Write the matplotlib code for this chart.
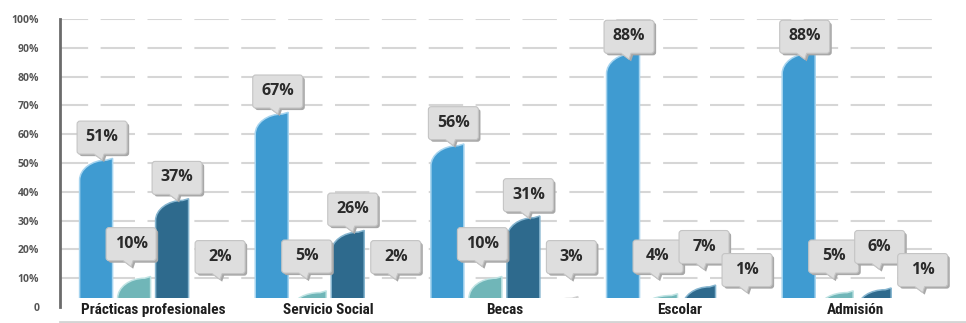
import matplotlib
matplotlib.use('Agg')
import matplotlib.pyplot as plt
from matplotlib.path import Path
from matplotlib.patches import PathPatch, Rectangle
from matplotlib.lines import Line2D
from matplotlib import font_manager as fm
import matplotlib.transforms as mtransforms
import matplotlib.patheffects as pe

# ---------------- data ----------------
categories = ['Prácticas profesionales', 'Servicio Social', 'Becas', 'Escolar', 'Admisión']
serie_1 = [51, 67, 56, 88, 88]   # azul
serie_2 = [10, 5, 10, 4, 5]      # verde agua
serie_3 = [37, 26, 31, 7, 6]     # azul oscuro
serie_4 = [2, 2, 3, 1, 1]        # gris
y_ticks = [0, 10, 20, 30, 40, 50, 60, 70, 80, 90, 100]
y_tick_labels = ['0', '10%', '20%', '30%', '40%', '50%', '60%', '70%', '80%', '90%', '100%']
major_marks = [20, 40, 60, 80, 100]

series = [serie_1, serie_2, serie_3, serie_4]
colors = ['#3f9bd1', '#70b6b8', '#2e6a8d', '#9e9e9e']
edges = ['#a6d4ef', '#bfe3e3', '#86b5cf', '#d2d2d2']

# ---------------- fonts ----------------
def pick_condensed():
    names = {f.name for f in fm.fontManager.ttflist}
    for cand in ['Liberation Sans Narrow', 'DejaVu Sans Condensed', 'Roboto Condensed']:
        if cand in names:
            return cand, 'normal'
    for f in fm.fontManager.ttflist:
        if f.name == 'DejaVu Sans' and 'condensed' in str(f.stretch):
            return 'DejaVu Sans', 'condensed'
    return 'DejaVu Sans', 'normal'

cond_family, cond_stretch = pick_condensed()
label_family = ['Open Sans', 'DejaVu Sans']

# ---------------- figure ----------------
W, H = 966, 323
DPI = 100
fig = plt.figure(figsize=(W / DPI, H / DPI), dpi=DPI)
fig.patch.set_facecolor('white')
ax_left, ax_right, ax_top, ax_bot = 60, 940, 19, 307
ax = fig.add_axes([ax_left / W, (H - ax_bot) / H, (ax_right - ax_left) / W, (ax_bot - ax_top) / H])
ax.set_facecolor('none')
ax.set_ylim(0, 100)
ax.set_xlim(-0.53, 4.48)

for s in ['top', 'right', 'bottom']:
    ax.spines[s].set_visible(False)
ax.spines['left'].set_color('#6b6b6b')
ax.spines['left'].set_linewidth(2.0)
ax.spines['left'].set_zorder(6)

ax.set_xticks([])
ax.set_yticks(y_ticks, y_tick_labels)
ax.tick_params(axis='y', which='major', length=0, pad=15, labelsize=7.5, labelcolor='#555555')
for t in ax.get_yticklabels():
    t.set_fontweight('bold')
    t.set_family(label_family)
ax.set_yticks(major_marks, minor=True)
ax.tick_params(axis='y', which='minor', length=12, width=1.6, color='#6b6b6b')

# dashed gridlines
for yv in y_ticks[1:]:
    ax.axhline(yv, color='#d6d6d6', lw=1.5, ls=(3, (16.5, 6)), zorder=1)

# ---------------- bars ----------------
px_per_x = (ax_right - ax_left) / (4.48 + 0.53)
step = 38 / px_per_x
bw = 33 / px_per_x
cut = 3.1   # white label band top (data units)

def leaf_bar(xc, h, w, fc, ec):
    x0, x1 = xc - w / 2, xc + w / 2
    rx = 0.82 * w
    ry = min(7.0, h)
    k = 0.5523
    verts = [(x0, 0), (x0, h - ry), (x0, h - ry + k * ry), (x0 + rx - k * rx, h),
             (x0 + rx, h), (x1, h + 0.6), (x1, 0), (x0, 0)]
    codes = [Path.MOVETO, Path.LINETO, Path.CURVE4, Path.CURVE4, Path.CURVE4,
             Path.LINETO, Path.LINETO, Path.CLOSEPOLY]
    ax.add_patch(PathPatch(Path(verts, codes), fc=fc, ec=ec, lw=1.1, zorder=2))

for j, vals in enumerate(series):
    for i, v in enumerate(vals):
        xc = i + (j - 1.5) * step
        leaf_bar(xc, v, bw, colors[j], edges[j])

# white band with category labels
band = Rectangle((0.004, -0.2), 1.1, 0.2 + cut / 100, transform=ax.transAxes,
                 fc='white', ec='none', zorder=3, clip_on=False)
ax.add_patch(band)
trans_lab = mtransforms.blended_transform_factory(ax.transData, ax.transAxes)
for i, c in enumerate(categories):
    ax.text(i, -0.012, c, transform=trans_lab, ha='center', va='center',
            fontsize=11, fontweight='bold', family=cond_family, fontstretch=cond_stretch,
            color='#1e1e1e', zorder=7, clip_on=False)

# bottom shadow line
fig.add_artist(Line2D([ax_left / W, 1.0], [(H - 321.5) / H, (H - 321.5) / H],
                      color='#d4d4d4', lw=2.0, zorder=20))

# ---------------- callouts ----------------
BOX_W, BOX_H, PT_W, PT_H, RAD = 50, 33, 10, 6, 3

def callout_style(x0, y0, width, height, mutation_size):
    s = fig.dpi / 100.0
    cx, cy = x0 + width / 2, y0 + height / 2
    bw_, bh_, pw, ph, r = BOX_W * s, BOX_H * s, PT_W * s, PT_H * s, RAD * s
    L, R, B, T = cx - bw_ / 2, cx + bw_ / 2, cy - bh_ / 2 - 0.5 * s, cy + bh_ / 2 - 0.5 * s
    px = cx - 3 * s
    verts = [(L + r, B), (px - pw / 2, B), (px + pw / 2 - 2 * s, B - ph), (px + pw / 2, B), (R - r, B),
             (R, B), (R, B + r), (R, T - r), (R, T), (R - r, T), (L + r, T), (L, T),
             (L, T - r), (L, B + r), (L, B), (L + r, B)]
    codes = [Path.MOVETO, Path.LINETO, Path.LINETO, Path.LINETO, Path.LINETO,
             Path.CURVE3, Path.CURVE3, Path.LINETO, Path.CURVE3, Path.CURVE3, Path.LINETO,
             Path.CURVE3, Path.CURVE3, Path.LINETO, Path.CURVE3, Path.CURVE3]
    return Path(verts, codes)

x_off = [6 / px_per_x, -3 / px_per_x, 5 / px_per_x, 10 / px_per_x]

def label_y(j, i):
    v = series[j][i]
    if j == 0:
        return min(v + 8, 94)
    if j == 1:
        return max(v + 12, 17.7)
    if j == 2:
        return max(v + 8, 21)
    return 13 if serie_3[i] < 15 else 17.5

z = 8
for j, vals in enumerate(series):
    for i, v in enumerate(vals):
        xc = i + (j - 1.5) * step + x_off[j]
        yc = label_y(j, i)
        t = ax.text(xc, yc, f'{v}%', ha='center', va='center',
                    fontsize=11.5, fontweight='bold', family=label_family, color='#2a2a2a',
                    bbox=dict(boxstyle=callout_style, fc='#dedede', ec='#c4c4c4', lw=0.8),
                    zorder=z, clip_on=False)
        t.get_bbox_patch().set_path_effects([
            pe.SimplePatchShadow(offset=(1.5, -1.5), shadow_rgbFace='#a8a8a8', alpha=1.0),
            pe.Normal()])
        z += 1

fig.savefig('out.png', dpi=DPI, facecolor='white')
